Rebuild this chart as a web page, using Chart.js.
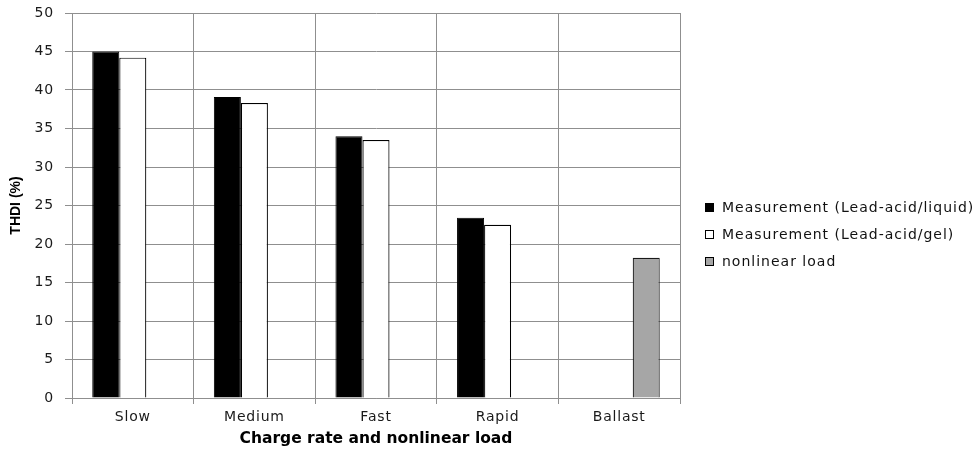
<!DOCTYPE html>
<html>
<head>
<meta charset="utf-8">
<script src="https://cdn.jsdelivr.net/npm/chart.js@4"></script>
<style>
  html, body { margin: 0; padding: 0; background: #ffffff; }
  #wrap { width: 979px; height: 452px; }
</style>
</head>
<body>
<div id="wrap"><canvas id="c" width="979" height="452"></canvas></div>
<script>
// Charge rates plus the reference nonlinear load
const categories = ['Slow', 'Medium', 'Fast', 'Rapid', 'Ballast'];

// THDI (%) per charge rate
const liquidValues = [45.0, 39.1, 34.0, 23.4, null];
const gelValues = [44.2, 38.3, 33.5, 22.5, null];
const nonlinearValues = [null, null, null, null, 18.2];

const seriesLabels = [
  'Measurement (Lead-acid/liquid)',
  'Measurement (Lead-acid/gel)',
  'nonlinear load'
];

const yMin = 0;
const yMax = 50;
const yStep = 5;

const GRID = '#8f8f8f';
const TICK_FONT = { family: 'DejaVu Sans', size: 14 };

// Legend drawn at the right of the plot, boxes plus labels
const sideLegend = {
  id: 'sideLegend',
  afterDraw(chart) {
    const ctx = chart.ctx;
    ctx.save();
    ctx.letterSpacing = '1px';
    ctx.font = '14px "DejaVu Sans"';
    ctx.textBaseline = 'middle';
    ctx.textAlign = 'left';
    const x = chart.chartArea.right + 25;
    const y0 = 208;
    const gap = 27;
    chart.data.datasets.forEach((ds, i) => {
      const y = y0 + i * gap;
      ctx.fillStyle = ds.backgroundColor;
      ctx.fillRect(x + 0.5, y - 4.5, 8, 8);
      ctx.strokeStyle = '#000000';
      ctx.lineWidth = 1;
      ctx.strokeRect(x + 0.5, y - 4.5, 8, 8);
      ctx.fillStyle = '#111111';
      ctx.fillText(ds.label, x + 17, y);
    });
    ctx.restore();
  }
};

// Slightly spaced lettering for the tick labels only
const tickSpacing = {
  id: 'tickSpacing',
  beforeDraw(chart) {
    Object.values(chart.scales).forEach((scale) => {
      if (scale._spaced) return;
      const base = scale.drawLabels;
      scale.drawLabels = function (area) {
        const ctx = this.ctx;
        const prev = ctx.letterSpacing;
        ctx.letterSpacing = '0.8px';
        base.call(this, area);
        ctx.letterSpacing = prev;
      };
      scale._spaced = true;
    });
  }
};

new Chart(document.getElementById('c'), {
  type: 'bar',
  data: {
    labels: categories,
    datasets: [
      {
        label: seriesLabels[0],
        data: liquidValues,
        backgroundColor: '#000000',
        borderColor: '#000000',
        borderWidth: 1
      },
      {
        label: seriesLabels[1],
        data: gelValues,
        backgroundColor: '#ffffff',
        borderColor: '#000000',
        borderWidth: 1.2
      },
      {
        label: seriesLabels[2],
        data: nonlinearValues,
        backgroundColor: '#a6a6a6',
        borderColor: '#1a1a1a',
        borderWidth: 1.2
      }
    ]
  },
  options: {
    responsive: false,
    animation: false,
    devicePixelRatio: 1,
    layout: { padding: { top: 13, right: 299, left: 0, bottom: 0 } },
    datasets: {
      bar: { barPercentage: 1.0, categoryPercentage: 0.667 }
    },
    plugins: {
      legend: { display: false },
      tooltip: { enabled: false },
      title: { display: false }
    },
    scales: {
      x: {
        grid: { color: GRID, lineWidth: 1, tickLength: 6, offset: true, drawTicks: true },
        border: { color: GRID, width: 1 },
        ticks: { font: TICK_FONT, color: '#1a1a1a', padding: 5, maxRotation: 0 },
        title: {
          display: true,
          text: 'Charge rate and nonlinear load',
          font: { family: 'DejaVu Sans', size: 15.5, weight: 'bold' },
          color: '#000000',
          padding: { top: 0, bottom: 4 }
        },
        afterFit(scale) { scale.height = 54; }
      },
      y: {
        min: yMin,
        max: yMax,
        grid: { color: GRID, lineWidth: 1, tickLength: 7, drawTicks: true },
        border: { color: GRID, width: 1 },
        ticks: { stepSize: yStep, font: TICK_FONT, color: '#1a1a1a', padding: 11 },
        title: {
          display: true,
          text: 'THDI (%)',
          font: { family: 'Liberation Sans', size: 14, weight: 'bold' },
          color: '#000000',
          padding: { top: 8, bottom: 0 }
        },
        afterFit(scale) {
          scale.width = 72;
          scale.paddingTop = 0;
          scale.paddingBottom = 0;
        }
      }
    }
  },
  plugins: [tickSpacing, sideLegend]
});
</script>
</body>
</html>
